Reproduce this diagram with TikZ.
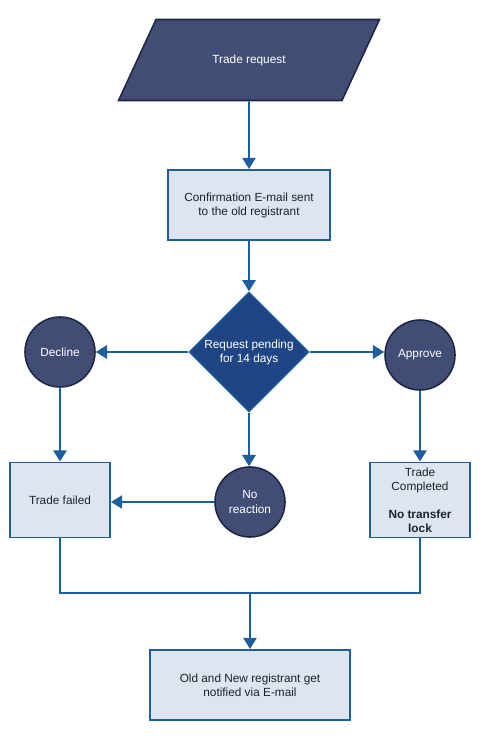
\documentclass[tikz,border=0pt]{standalone}
\usepackage{fontspec}
\setmainfont{Liberation Sans}
\usepackage{tikz}
\usetikzlibrary{shapes.geometric}
\usetikzlibrary{arrows.meta}

\definecolor{lineblue}{HTML}{1F5E9E}
\definecolor{navyfill}{HTML}{414D75}
\definecolor{navyedge}{HTML}{1B2745}
\definecolor{diafill}{HTML}{1F4584}
\definecolor{boxfill}{HTML}{DEE5F0}
\definecolor{boxtext}{HTML}{1E2230}

\tikzset{
  every node/.style={font=\fontsize{8.4}{10}\selectfont, align=center},
  inbox/.style={draw=lineblue, line width=1.4pt, fill=boxfill, text=boxtext, inner sep=0pt},
  ident/.style={trapezium, trapezium stretches=true, trapezium left angle=50.8, trapezium right angle=129.2,
    draw=navyedge, line width=1.1pt, fill=navyfill, text=white, minimum width=6.55cm, minimum height=2.025cm},
  choice/.style={diamond, draw=lineblue, line width=1pt, fill=diafill, text=white, inner sep=0pt,
    minimum width=3cm, minimum height=3cm},
  answer/.style={circle, draw=navyedge, line width=1.1pt, fill=navyfill, text=white, inner sep=0pt,
    minimum size=1.75cm},
  flow/.style={draw=lineblue, line width=1.4pt, -{Triangle[width=9.5pt,length=8pt]}},
  wire/.style={draw=lineblue, line width=1.4pt},
}

\begin{document}
\begin{tikzpicture}[x=0.025cm, y=-0.025cm]
    \useasboundingbox (0,0) rectangle (496,740);
    \node[ident] (req) at (249, 60) {Trade request};
    \node[inbox, minimum width=4.025cm, minimum height=1.75cm] (mail) at (249, 205)
      {Confirmation E-mail sent\\to the old registrant};
    \node[choice] (pend) at (249, 352) {Request pending\\for 14 days};
    \node[answer] (decl) at (60, 352) {Decline};
    \node[answer] (appr) at (420, 355) {Approve};
    \node[answer] (none) at (250, 502) {No\\reaction};
    \node[inbox, minimum width=2.5cm, minimum height=1.875cm] (fail) at (60, 500) {Trade failed};
    \node[inbox, minimum width=2.5cm, minimum height=1.875cm] (done) at (420, 500)
      {Trade\\Completed\\[10pt]\textbf{No transfer}\\\textbf{lock}};
    \node[inbox, minimum width=5cm, minimum height=1.75cm] (note) at (250, 685)
      {Old and New registrant get\\notified via E-mail};
    \coordinate (join) at (250, 593);
    \draw (req) edge[flow] (mail);
    \draw (mail) edge[flow] (pend);
    \draw (pend) edge[flow] (decl);
    \draw (pend) edge[flow] (appr.west |- pend.east);
    \draw (pend.south) edge[flow] (pend.south |- none.north);
    \draw (decl) edge[flow] (fail);
    \draw (appr) edge[flow] (done);
    \draw (none) edge[flow] (fail.east |- none.west);
    \draw[wire] (fail.south) |- (join) -| (done.south);
    \draw (join -| note.north) edge[flow] (note);
  \end{tikzpicture}
\end{document}
